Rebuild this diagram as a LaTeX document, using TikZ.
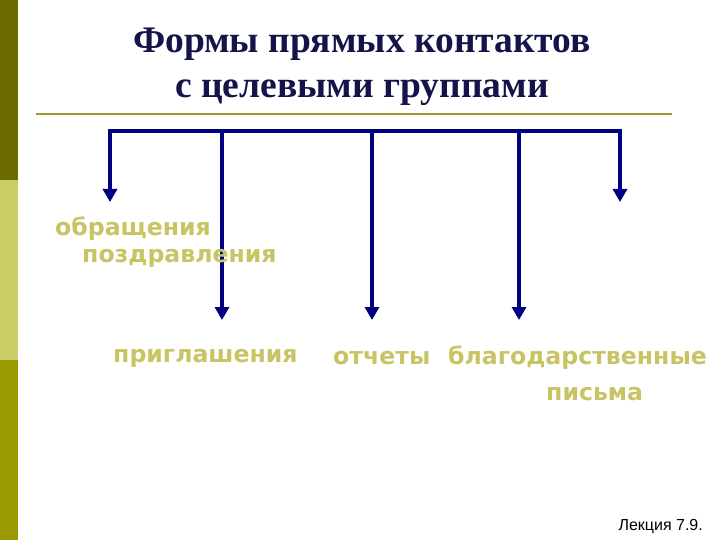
\documentclass[tikz,border=0pt]{standalone}
\usepackage{fontspec}
\setmainfont{Liberation Serif}
\newfontfamily\lab{DejaVu Sans}
\newfontfamily\smallf{Liberation Sans}
\usetikzlibrary{arrows.meta}
\definecolor{navy}{HTML}{000080}
\definecolor{khaki}{HTML}{C8C464}
\definecolor{darkol}{HTML}{6B6B00}
\definecolor{lightol}{HTML}{CCCC66}
\definecolor{midol}{HTML}{999900}
\definecolor{rulec}{HTML}{A09830}
\definecolor{titlec}{HTML}{14144A}
\tikzset{lbl/.style={font=\lab\bfseries\fontsize{23.6}{28}\selectfont, text=khaki, inner sep=0pt, anchor=west},
arr/.style={draw=navy, line width=4.5pt, -{Triangle[length=13pt,width=14pt]}},
bar/.style={draw=navy, line width=4.5pt}}
\begin{document}
\begin{tikzpicture}[x=1pt,y=-1pt]
\useasboundingbox (0,0) rectangle (720,540);
\fill[white] (0,0) rectangle (720,540);
\fill[darkol] (0,0) rectangle (18,180);
\fill[lightol] (0,180) rectangle (18,360);
\fill[midol] (0,360) rectangle (18,540);
\node[font=\bfseries\fontsize{37.5}{45}\selectfont, text=titlec, align=center] (title) at (362,67) {Формы прямых контактов\\с целевыми группами};
\draw[rulec, line width=2pt] (36,114) -- (672,114);
\coordinate (h0) at (110,131);
\coordinate (h1) at (222,131);
\coordinate (h2) at (372,131);
\coordinate (h3) at (519,131);
\coordinate (h4) at (620,131);
\coordinate (e0) at (110,202);
\coordinate (e1) at (222,320);
\coordinate (e2) at (372,320);
\coordinate (e3) at (519,320);
\coordinate (e4) at (620,202);
\draw[bar] ([xshift=-2.25pt]h0) -- ([xshift=2.25pt]h4);
\draw[arr] ([yshift=2.25pt]h0) -- (e0);
\draw[arr] (h1) -- (e1);
\draw[arr] (h2) -- (e2);
\draw[arr] (h3) -- (e3);
\draw[arr] ([yshift=2.25pt]h4) -- (e4);
\node[lbl] (l1) at (55,229) {обращения};
\node[lbl] (l2) at (82,258) {поздравления};
\node[lbl] (l3) at (113,358) {приглашения};
\node[lbl] (l4) at (333,358) {отчеты};
\node[lbl] (l5) at (448,358) {благодарственные};
\node[lbl] (l6) at (546,394) {письма};
\node[font=\smallf\fontsize{16}{18}\selectfont, anchor=east, inner sep=0pt] (lec) at (703,527) {Лекция 7.9.};
\end{tikzpicture}
\end{document}
